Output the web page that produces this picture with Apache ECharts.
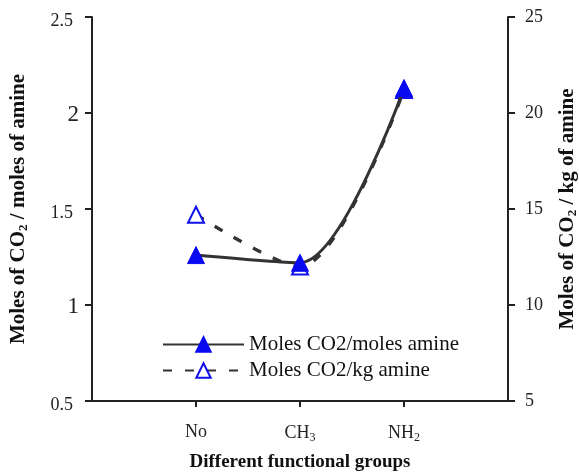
<!DOCTYPE html>
<html>
<head>
<meta charset="utf-8">
<script src="https://cdn.jsdelivr.net/npm/echarts@6/dist/echarts.min.js"></script>
<style>html,body{margin:0;padding:0;background:#fff;overflow:hidden}#c{width:579px;height:472px;position:absolute;left:0;top:0}</style>
</head>
<body>
<div id="c"></div>
<script>
const categories = ['', 'No', 'CH{sub|3}', 'NH{sub|2}', ''];
const molesPerMolesAmine = [null, 1.26, 1.22, 2.13, null];
const molesPerKgAmine = [null, 14.7, 12.0, 21.2, null];
const leftTicks = { min: 0.5, max: 2.5, interval: 0.5 };
const rightTicks = { min: 5, max: 25, interval: 5 };
const seriesNames = ['Moles CO2/moles amine', 'Moles CO2/kg amine'];

const FONT = '"Liberation Serif", "Times New Roman", serif';
const chart = echarts.init(document.getElementById('c'));
const axisLine = { show: true, lineStyle: { color: '#222', width: 2 } };
const axisTick = { show: true, inside: false, length: 7, lineStyle: { color: '#222', width: 2 } };
const subRich = { sub: { fontSize: 12, verticalAlign: 'bottom', padding: [9, 0, 0, 0], fontFamily: FONT, color: '#222' } };
const boldSub = { sub: { fontFamily: FONT, fontSize: 13, fontWeight: 'bold', color: '#111', verticalAlign: 'bottom', padding: [10, 0, 0, 0] } };

chart.setOption({
  animation: false,
  backgroundColor: '#fff',
  grid: { left: 92, right: 71, top: 17, bottom: 71, containLabel: false, outerBoundsMode: 'none' },
  legend: {
    orient: 'vertical',
    left: 162,
    top: 334,
    padding: 0,
    itemWidth: 81,
    itemHeight: 18,
    itemGap: 5,
    textStyle: { fontFamily: FONT, fontSize: 21, color: '#111' },
    data: seriesNames
  },
  xAxis: {
    type: 'category',
    data: categories,
    boundaryGap: false,
    axisLine: axisLine,
    axisTick: Object.assign({}, axisTick, { length: 6, interval: (i) => i > 0 && i < categories.length - 1 }),
    axisLabel: {
      interval: 0, margin: 22,
      fontFamily: FONT, fontSize: 18, color: '#222',
      rich: subRich
    },
    splitLine: { show: false },
    name: 'Different functional groups',
    nameLocation: 'middle',
    nameGap: 52,
    nameTextStyle: { fontFamily: FONT, fontSize: 19, fontWeight: 'bold', color: '#111' }
  },
  yAxis: [
    {
      type: 'value', position: 'left',
      min: leftTicks.min, max: leftTicks.max, interval: leftTicks.interval,
      axisLine: axisLine, axisTick: axisTick,
      axisLabel: {
        margin: 13, fontFamily: FONT, color: '#222',
        formatter: (v) => Number.isInteger(v) ? '{big|' + v + '}' : '{dec|' + v + '}',
        rich: {
          big: { fontFamily: FONT, fontSize: 23, color: '#222', padding: [4, 0, 0, 0] },
          dec: { fontFamily: FONT, fontSize: 18, color: '#222', padding: [8, 6, 0, 0] }
        }
      },
      splitLine: { show: false },
      name: 'Moles of CO{sub|2} / moles of amine',
      nameLocation: 'middle', nameRotate: 90, nameGap: 62,
      nameTextStyle: { fontFamily: FONT, fontSize: 21, fontWeight: 'bold', color: '#111', rich: boldSub }
    },
    {
      type: 'value', position: 'right',
      min: rightTicks.min, max: rightTicks.max, interval: rightTicks.interval,
      axisLine: axisLine, axisTick: axisTick,
      axisLabel: { margin: 17, fontFamily: FONT, fontSize: 18, color: '#222', padding: [8, 0, 0, 0] },
      splitLine: { show: false },
      name: 'Moles of CO{sub|2} / kg of amine',
      nameLocation: 'middle', nameRotate: 90, nameGap: 48,
      nameTextStyle: { fontFamily: FONT, fontSize: 21, fontWeight: 'bold', color: '#111', rich: boldSub }
    }
  ],
  series: [
    {
      name: seriesNames[0],
      type: 'line',
      yAxisIndex: 0,
      data: molesPerMolesAmine,
      smooth: 0.3,
      symbol: 'triangle',
      symbolSize: 17,
      itemStyle: { color: '#0a0af0', borderColor: '#0a0af0', borderWidth: 1 },
      lineStyle: { color: '#333', width: 3 },
      z: 3
    },
    {
      name: seriesNames[1],
      type: 'line',
      yAxisIndex: 1,
      data: molesPerKgAmine,
      smooth: 0.3,
      symbol: 'triangle',
      symbolSize: 16,
      itemStyle: { color: '#fff', borderColor: '#1010ee', borderWidth: 2 },
      lineStyle: { color: '#333', width: 3.3, type: [9, 13] },
      z: 2
    }
  ]
});
</script>
</body>
</html>
